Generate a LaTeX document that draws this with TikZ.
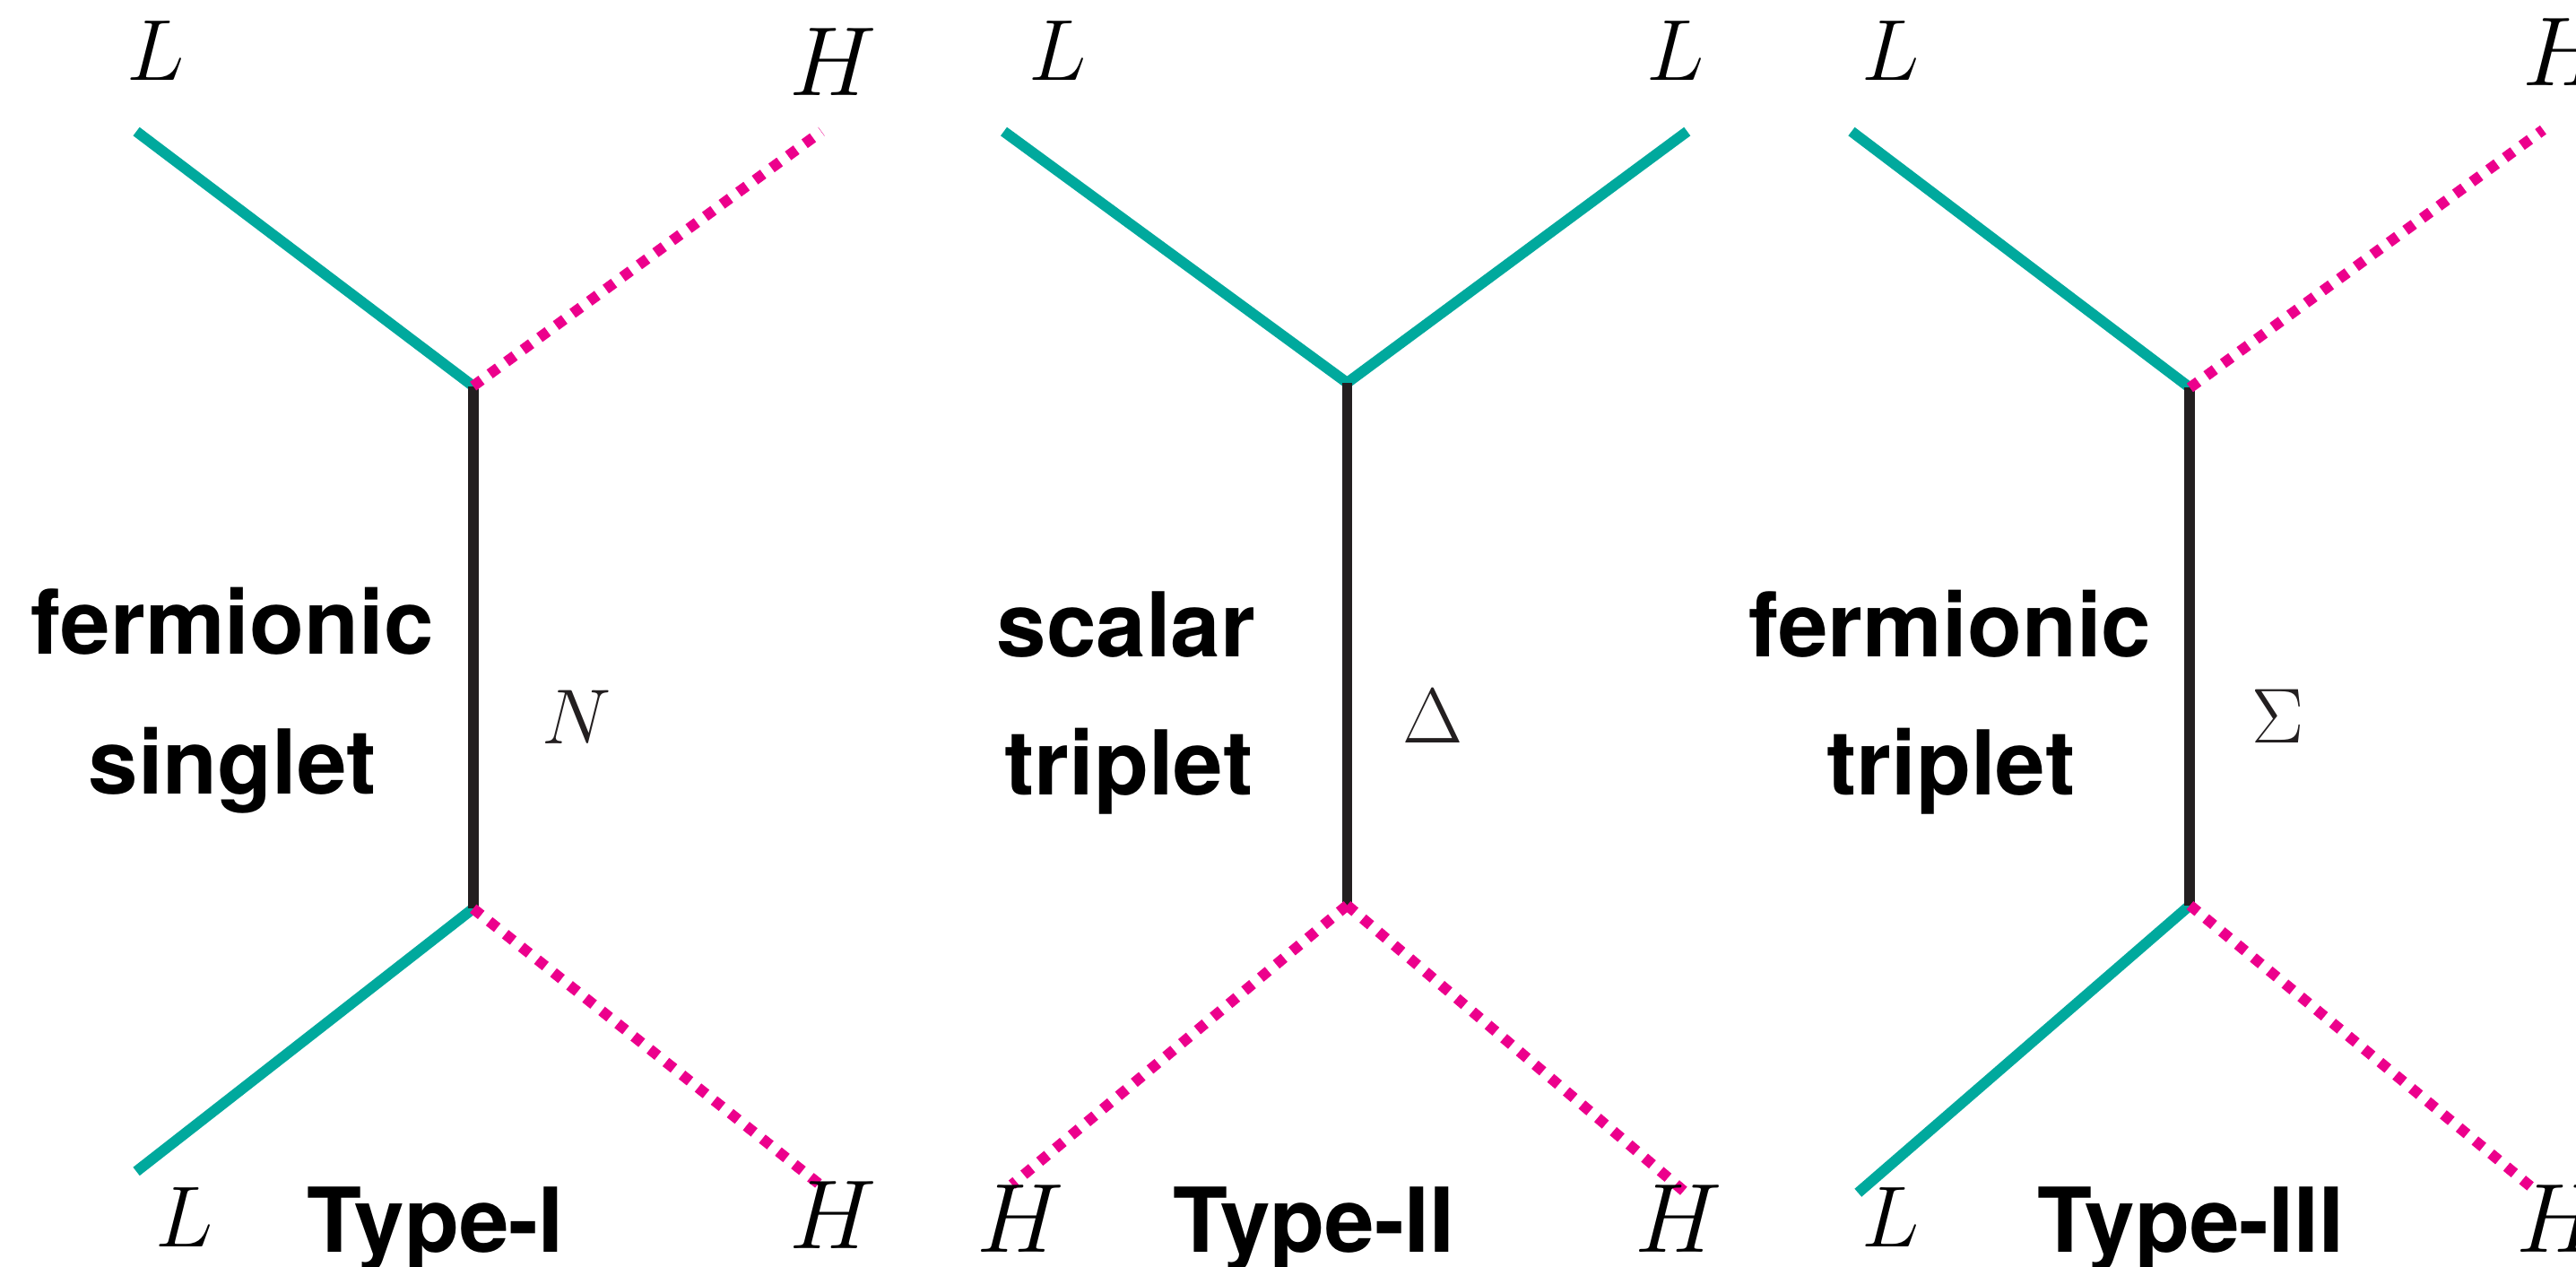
\RequirePackage{fix-cm}
\documentclass[tikz,border=0pt]{standalone}
\usepackage{fontspec}
\newfontfamily\heros{TeX Gyre Heros}
\definecolor{tealc}{RGB}{0,169,157}
\definecolor{magc}{RGB}{236,0,140}
\definecolor{darkc}{RGB}{35,31,32}
\tikzset{
  fermion/.style={draw=tealc, line width=0.13cm},
  higgs/.style={draw=magc, line width=0.13cm, dash pattern=on 0.125cm off 0.125cm},
  medline/.style={draw=darkc, line width=0.13cm},
  lab/.style={inner sep=0pt, anchor=base, font=\fontsize{30}{36}\selectfont},
  hlab/.style={inner sep=0pt, anchor=base, font=\fontsize{34}{40}\selectfont},
  medlab/.style={inner sep=0pt, anchor=base, text=darkc, font=\fontsize{27}{32}\selectfont},
  desc/.style={inner sep=0pt, anchor=base, font=\heros\bfseries\fontsize{31}{36}\selectfont},
}
\begin{document}
\begin{tikzpicture}[x=0.02cm, y=-0.02cm]
\useasboundingbox (0,0) rectangle (1568,771);
% ---------- Type-I ----------
\coordinate (v1t) at (288,235);
\coordinate (v1b) at (288,553);
\coordinate (e1a) at (83,80);
\coordinate (e1b) at (500,80);
\coordinate (e1c) at (83,713);
\coordinate (e1d) at (499,721);
\draw[fermion] (e1a) -- (v1t);
\draw[fermion] (e1c) -- (v1b);
\draw[medline] (v1t) -- (v1b);
\draw[higgs] (v1t) -- (e1b);
\draw[higgs] (v1b) -- (e1d);
\node[lab] (l1a) at (95,49) {$L$};
\node[hlab] (h1b) at (507,58) {$H$};
\node[lab] (l1c) at (112,759) {$L$};
\node[hlab] (h1d) at (507,760) {$H$};
\node[desc] (d1a) at (141.5,398) {fermionic};
\node[desc] (d1b) at (141.5,483) {singlet};
\node[medlab] (m1) at (351,452.5) {$N$};
\node[desc] (t1) at (265,762) {Type-I};
% ---------- Type-II ----------
\coordinate (v2t) at (820,233);
\coordinate (v2b) at (820,551);
\coordinate (e2a) at (611,80);
\coordinate (e2b) at (1027,80);
\coordinate (e2c) at (616,721);
\coordinate (e2d) at (1025,725);
\draw[fermion] (e2a) -- (v2t);
\draw[fermion] (e2b) -- (v2t);
\draw[medline] (v2t) -- (v2b);
\draw[higgs] (v2b) -- (e2c);
\draw[higgs] (v2b) -- (e2d);
\node[lab] (l2a) at (644,49) {$L$};
\node[lab] (l2b) at (1020,49) {$L$};
\node[hlab] (h2c) at (621,762) {$H$};
\node[hlab] (h2d) at (1022,762) {$H$};
\node[desc] (d2a) at (685.5,400) {scalar};
\node[desc] (d2b) at (687,484) {triplet};
\node[medlab] (m2) at (872,452) {$\Delta$};
\node[desc] (t2) at (799.5,762) {Type-II};
% ---------- Type-III ----------
\coordinate (v3t) at (1333,236);
\coordinate (v3b) at (1333,551);
\coordinate (e3a) at (1127,80);
\coordinate (e3b) at (1548,79);
\coordinate (e3c) at (1131,726);
\coordinate (e3d) at (1545,726);
\draw[fermion] (e3a) -- (v3t);
\draw[fermion] (e3c) -- (v3b);
\draw[medline] (v3t) -- (v3b);
\draw[higgs] (v3t) -- (e3b);
\draw[higgs] (v3b) -- (e3d);
\node[lab] (l3a) at (1151,49) {$L$};
\node[hlab] (h3b) at (1562,52) {$H$};
\node[lab] (l3c) at (1151,759) {$L$};
\node[hlab] (h3d) at (1558,762) {$H$};
\node[desc] (d3a) at (1187,400) {fermionic};
\node[desc] (d3b) at (1187.5,484) {triplet};
\node[medlab] (m3) at (1386.5,452) {$\Sigma$};
\node[desc] (t3) at (1333.5,762) {Type-III};
\end{tikzpicture}
\end{document}
